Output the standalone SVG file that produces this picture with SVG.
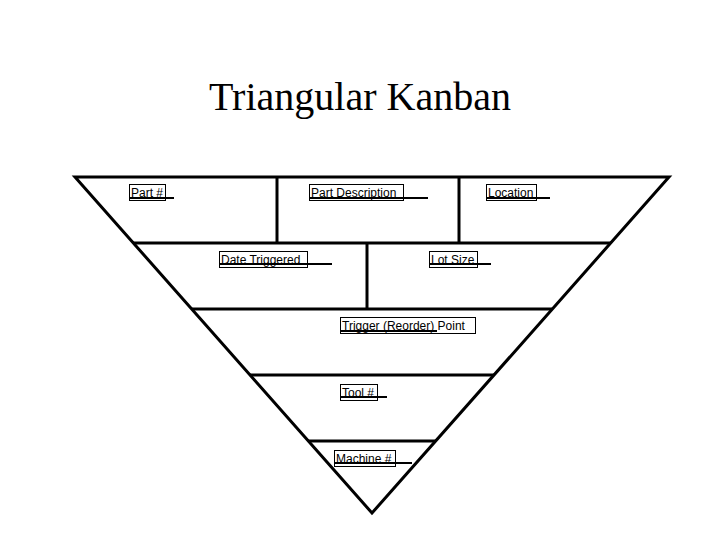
<svg xmlns="http://www.w3.org/2000/svg" width="720" height="540" viewBox="0 0 720 540">
<style>
.l{stroke:#000;stroke-width:3;fill:none}
.b{fill:none;stroke:#000;stroke-width:1}
.u{stroke:#000;stroke-width:2}
.t{font-family:"Liberation Sans",Arial,sans-serif;font-size:12px;fill:#000}
</style>
<rect width="720" height="540" fill="#fff"/>
<text x="360" y="110" text-anchor="middle" font-family="Liberation Serif,serif" font-size="40">Triangular Kanban</text>
<g id="frame">
<polygon class="l" points="75,177 669,177 372,513"/>
<line class="l" x1="133" y1="243" x2="611" y2="243"/>
<line class="l" x1="192" y1="309" x2="552" y2="309"/>
<line class="l" x1="250" y1="375" x2="494" y2="375"/>
<line class="l" x1="308" y1="441" x2="436" y2="441"/>
<line class="l" x1="277" y1="177" x2="277" y2="243"/>
<line class="l" x1="459" y1="177" x2="459" y2="243"/>
<line class="l" x1="367" y1="243" x2="367" y2="309"/>
</g>
<g id="labels">
<g id="part"><rect class="b" x="129.5" y="184.5" width="36" height="16"/><line class="u" x1="129" y1="198" x2="174" y2="198"/><text class="t" x="131" y="197">Part #</text></g>
<g id="desc"><rect class="b" x="309.5" y="184.5" width="94" height="16"/><line class="u" x1="309" y1="198" x2="428" y2="198"/><text class="t" x="311" y="197">Part Description</text></g>
<g id="loc"><rect class="b" x="486.5" y="184.5" width="50" height="16"/><line class="u" x1="486" y1="198" x2="550" y2="198"/><text class="t" x="488" y="197">Location</text></g>
<g id="date"><rect class="b" x="219.5" y="251.5" width="88" height="16"/><line class="u" x1="219" y1="264" x2="332" y2="264"/><text class="t" x="221" y="264">Date Triggered</text></g>
<g id="lot"><rect class="b" x="429.5" y="251.5" width="48" height="16"/><line class="u" x1="429" y1="264" x2="491" y2="264"/><text class="t" x="431" y="264">Lot Size</text></g>
<g id="trigger"><rect class="b" x="340.5" y="317.5" width="135" height="16"/><line class="u" x1="340" y1="331" x2="437" y2="331"/><text class="t" x="342" y="330">Trigger (Reorder) Point</text></g>
<g id="tool"><rect class="b" x="340.5" y="384.5" width="37" height="16"/><line class="u" x1="340" y1="397" x2="387" y2="397"/><text class="t" x="342" y="397">Tool #</text></g>
<g id="machine"><rect class="b" x="334.5" y="450.5" width="61" height="16"/><line class="u" x1="334" y1="463" x2="412" y2="463"/><text class="t" x="336" y="463">Machine #</text></g>
</g>
</svg>
